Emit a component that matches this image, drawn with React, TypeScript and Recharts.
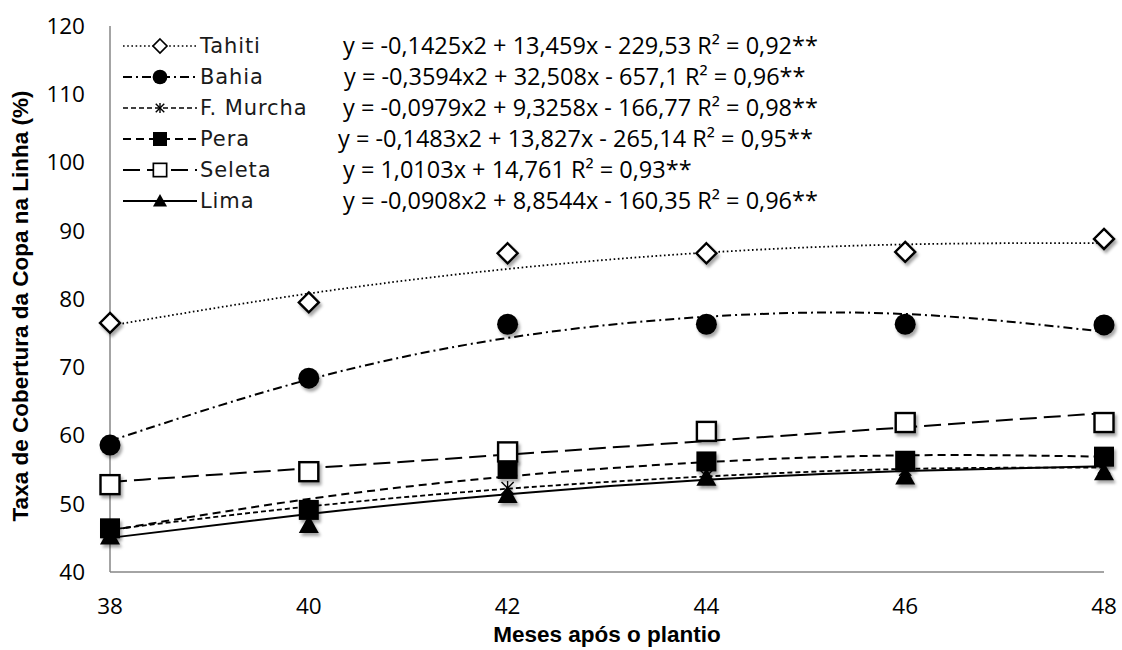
import { ComposedChart, Line, XAxis, YAxis } from 'recharts'

// meses após o plantio
const months = [38, 40, 42, 44, 46, 48]
const yTicks = [40, 50, 60, 70, 80, 90, 100, 110, 120]

// observed values (%)
const tahiti = [76.5, 79.5, 86.7, 86.7, 86.9, 88.8]
const bahia = [58.6, 68.4, 76.3, 76.3, 76.3, 76.2]
const fMurcha = [46.3, 49.6, 52.3, 54.0, 55.0, 55.3]
const pera = [46.4, 49.1, 55.1, 56.2, 56.3, 56.9]
const seleta = [52.8, 54.7, 57.6, 60.6, 61.9, 61.9]
const lima = [45.2, 46.9, 51.3, 53.8, 54.0, 54.6]

// trendline values
const tahitiFit = [76.1, 80.8, 84.4, 86.8, 88.0, 88.2]
const bahiaFit = [59.2, 68.2, 74.3, 77.4, 77.8, 75.2]
const fMurchaFit = [46.2, 49.6, 52.2, 54.0, 55.1, 55.3]
const peraFit = [46.1, 50.7, 54.0, 56.1, 57.1, 56.9]
const seletaFit = [53.2, 55.2, 57.2, 59.2, 61.2, 63.3]
const limaFit = [45.0, 48.5, 51.4, 53.5, 54.8, 55.5]

const equations = [
  'y = -0,1425x2 + 13,459x - 229,53 R² = 0,92**',
  'y = -0,3594x2 + 32,508x - 657,1 R² = 0,96**',
  'y = -0,0979x2 + 9,3258x - 166,77 R² = 0,98**',
  'y = -0,1483x2 + 13,827x - 265,14 R² = 0,95**',
  'y = 1,0103x + 14,761 R² = 0,93**',
  'y = -0,0908x2 + 8,8544x - 160,35 R² = 0,96**'
]

type MarkerKind = 'diamond' | 'circle' | 'star' | 'square' | 'squareOpen' | 'triangle'

const series: { key: string, name: string, marker: MarkerKind, dash?: string, width: number, eqLeft: number }[] = [
  { key: 'tahiti', name: 'Tahiti', marker: 'diamond', dash: '1.6 2.6', width: 1.8, eqLeft: 343 },
  { key: 'bahia', name: 'Bahia', marker: 'circle', dash: '9 4 2 4', width: 2, eqLeft: 344 },
  { key: 'fMurcha', name: 'F. Murcha', marker: 'star', dash: '5 3', width: 1.8, eqLeft: 343 },
  { key: 'pera', name: 'Pera', marker: 'square', dash: '8 5', width: 2, eqLeft: 338 },
  { key: 'seleta', name: 'Seleta', marker: 'squareOpen', dash: '17 7', width: 2, eqLeft: 343 },
  { key: 'lima', name: 'Lima', marker: 'triangle', width: 2, eqLeft: 343 }
]

const data = months.map((mes, i) => ({
  mes,
  tahiti: tahiti[i],
  bahia: bahia[i],
  fMurcha: fMurcha[i],
  pera: pera[i],
  seleta: seleta[i],
  lima: lima[i],
  tahitiFit: tahitiFit[i],
  bahiaFit: bahiaFit[i],
  fMurchaFit: fMurchaFit[i],
  peraFit: peraFit[i],
  seletaFit: seletaFit[i],
  limaFit: limaFit[i]
}))

function Marker ({ cx, cy, kind, s = 1, shadow = true }: { cx: number, cy: number, kind: MarkerKind, s?: number, shadow?: boolean }) {
  const filter = shadow ? 'url(#markerShadow)' : undefined
  if (kind === 'diamond') {
    const r = 10 * s
    return <path d={`M${cx},${cy - r}L${cx + r},${cy}L${cx},${cy + r}L${cx - r},${cy}Z`} fill='#fff' stroke='#000' strokeWidth={2.4 * s} filter={filter} />
  }
  if (kind === 'circle') {
    return <circle cx={cx} cy={cy} r={10.5 * s} fill='#000' filter={filter} />
  }
  if (kind === 'star') {
    const r = 7 * s
    const d = r * 0.87
    return (
      <g stroke='#000' strokeWidth={1.4} filter={filter}>
        <line x1={cx} y1={cy - r} x2={cx} y2={cy + r} />
        <line x1={cx - d} y1={cy - d} x2={cx + d} y2={cy + d} />
        <line x1={cx - d} y1={cy + d} x2={cx + d} y2={cy - d} />
      </g>
    )
  }
  if (kind === 'square') {
    const h = 10 * s
    return <rect x={cx - h} y={cy - h} width={2 * h} height={2 * h} fill='#000' filter={filter} />
  }
  if (kind === 'squareOpen') {
    const h = 9.5 * s
    return <rect x={cx - h} y={cy - h} width={2 * h} height={2 * h} fill='#fff' stroke='#000' strokeWidth={2.4 * s} filter={filter} />
  }
  const h = 10 * s
  return <path d={`M${cx},${cy - h}L${cx + h},${cy + h * 0.8}L${cx - h},${cy + h * 0.8}Z`} fill='#000' filter={filter} />
}

const tickStyle = { fontFamily: 'Open Sans', fontSize: 22.5, fill: '#000' }

export default function App () {
  return (
    <div style={{ position: 'absolute', left: 0, top: 0, width: 1122, height: 650, background: '#fff' }}>
      <svg width={0} height={0} style={{ position: 'absolute' }}>
        <defs>
          <filter id='markerShadow' x='-50%' y='-50%' width='200%' height='200%'>
            <feDropShadow dx={2} dy={3} stdDeviation={1.6} floodColor='#000' floodOpacity={0.35} />
          </filter>
        </defs>
      </svg>

      <ComposedChart width={1122} height={650} data={data} margin={{ top: 26, right: 18, bottom: 0, left: 0 }}>
        <XAxis
          dataKey='mes'
          type='number'
          domain={[38, 48]}
          ticks={months}
          height={78}
          tickSize={0}
          tickMargin={26}
          axisLine={{ stroke: '#868686', strokeWidth: 1.5 }}
          tick={tickStyle}
        />
        <YAxis
          type='number'
          domain={[40, 120]}
          ticks={yTicks}
          width={110}
          tickSize={0}
          tickMargin={25}
          axisLine={{ stroke: '#868686', strokeWidth: 1.5 }}
          tick={tickStyle}
        />

        {series.map(s => (
          <Line
            key={s.key + 'Fit'}
            dataKey={s.key + 'Fit'}
            type='natural'
            stroke='#000'
            strokeWidth={s.width}
            strokeDasharray={s.dash}
            dot={false}
            activeDot={false}
            isAnimationActive={false}
          />
        ))}

        {series.map(s => (
          <Line
            key={s.key}
            dataKey={s.key}
            stroke='none'
            dot={(p: any) => <Marker key={s.key + p.index} cx={p.cx} cy={p.cy} kind={s.marker} />}
            activeDot={false}
            isAnimationActive={false}
          />
        ))}
      </ComposedChart>

      {series.map((s, i) => {
        const top = 46 + i * 31
        return (
          <div key={s.key}>
            <svg width={74} height={24} style={{ position: 'absolute', left: 123, top: top - 12 }}>
              <line x1={0} y1={12} x2={74} y2={12} stroke='#000' strokeWidth={s.width * 0.9} strokeDasharray={s.dash} />
              <Marker cx={37} cy={12} kind={s.marker} s={0.7} shadow={false} />
            </svg>
            <div style={{ position: 'absolute', left: 200, top: top - 14, fontFamily: 'DejaVu Sans', fontSize: 21, letterSpacing: 0.9, color: '#1a1a1a', lineHeight: '28px', whiteSpace: 'nowrap' }}>
              {s.name}
            </div>
            <div style={{ position: 'absolute', left: s.eqLeft, top: top - 17, fontFamily: 'Open Sans', fontSize: 23.5, color: '#000', lineHeight: '32px', whiteSpace: 'nowrap' }}>
              {equations[i]}
            </div>
          </div>
        )
      })}

      <div style={{ position: 'absolute', left: 21, top: 306, transform: 'translate(-50%, -50%) rotate(-90deg)', fontFamily: 'Liberation Sans', fontWeight: 'bold', fontSize: 22.5, whiteSpace: 'nowrap' }}>
        Taxa de Cobertura da Copa na Linha (%)
      </div>
      <div style={{ position: 'absolute', left: 607, top: 635, transform: 'translate(-50%, -50%)', fontFamily: 'Liberation Sans', fontWeight: 'bold', fontSize: 22.5, whiteSpace: 'nowrap' }}>
        Meses após o plantio
      </div>
    </div>
  )
}
